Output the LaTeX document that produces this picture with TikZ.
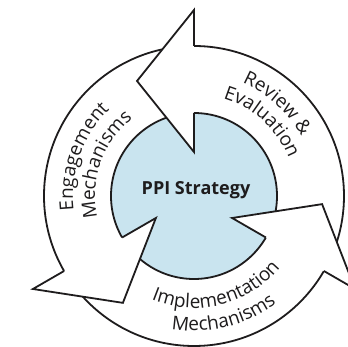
\documentclass[tikz,border=0pt]{standalone}
\usepackage{fontspec}
\setmainfont{Open Sans}
\usetikzlibrary{calc,decorations.text}
\definecolor{hub}{RGB}{201,228,239}
\definecolor{ink}{RGB}{30,28,29}
\newcommand\arcfont{\fontsize{19}{22}\selectfont\color{ink}}
\begin{document}
\begin{tikzpicture}[x=1pt,y=1pt,
  outline/.style={draw=ink, line width=1.8pt, line join=miter},
  headfill/.style={fill=white},
  arclabel/.style={decorate, decoration={text along path, text align=center,
    text format delimiters={|}{|}, text={|\arcfont|#1}}}]
\useasboundingbox (-194,-151) rectangle (154,196);
\clip (-194,-151) rectangle (154,196);
% hub and ring
\fill[hub] (0,0) circle[radius=83];
\path[fill=white, even odd rule] (0,0) circle[radius=150] (0,0) circle[radius=83];
\draw[outline] (0,0) circle[radius=150];
\draw[outline] (0,0) circle[radius=83];
% arrow heads at the end of each arc segment (counter-clockwise flow)
\foreach \a in {90,210,330}{
  \coordinate (wo) at (\a:186);
  \coordinate (wi) at (\a:44);
  \coordinate (tip) at ($(\a:115)+(\a+90:57)$);
  \fill[headfill] (wi) -- (wo) -- (tip) -- cycle;
  \draw[outline] (\a:150) -- (wo) -- (tip) -- (wi) -- (\a:83);
}
% centre label
\node[font=\fontsize{18}{20}\selectfont\bfseries, text=ink] (hubtext) at (2,6) {PPI Strategy};
% curved labels: clockwise arcs keep letters upright outward, the lower arcs run counter-clockwise
\path[arclabel={Review {\&}}] (92:123) arc[start angle=92, end angle=4, radius=123];
\path[arclabel={Evaluation}] (92:102) arc[start angle=92, end angle=3, radius=102];
\path[arclabel={Engagement}] (207:121) arc[start angle=207, end angle=114, radius=121];
\path[arclabel={Mechanisms}] (207:99) arc[start angle=207, end angle=114, radius=99];
\path[arclabel={Implementation}] (237:112) arc[start angle=237, end angle=331, radius=112];
\path[arclabel={Mechanisms}] (237:135) arc[start angle=237, end angle=331, radius=135];
\end{tikzpicture}
\end{document}
